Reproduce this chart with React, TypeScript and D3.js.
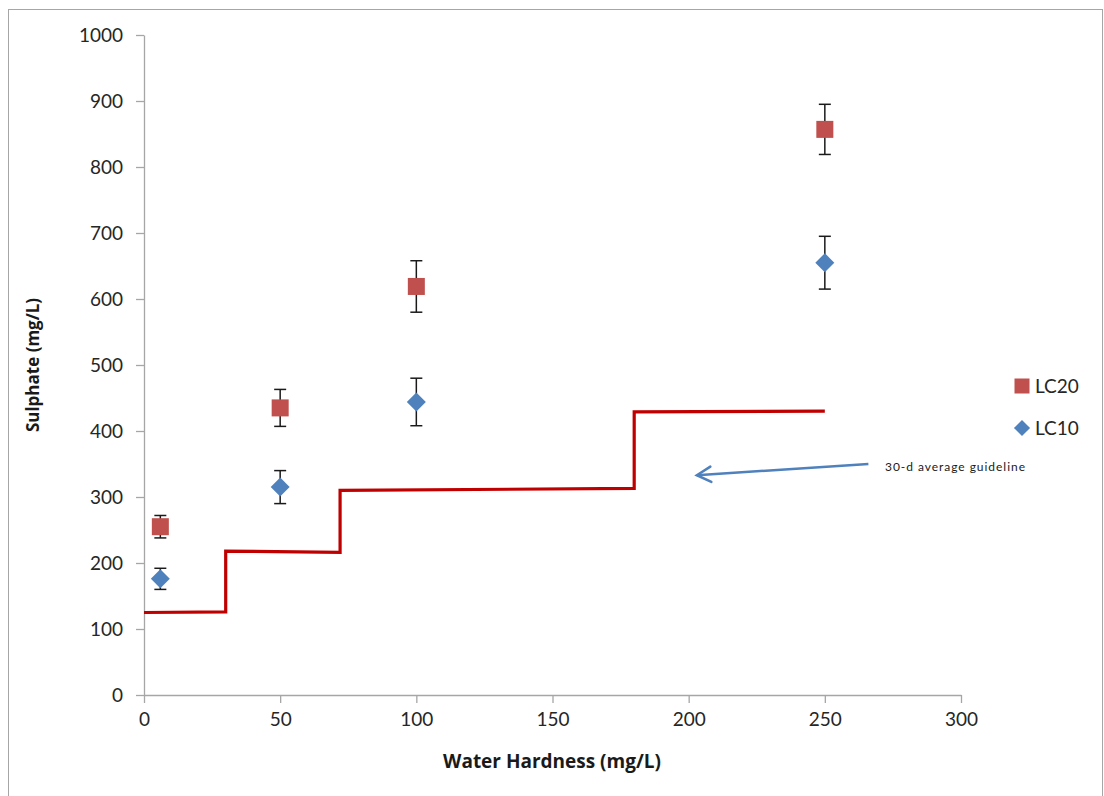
import { useRef, useEffect } from 'react'
import * as d3 from 'd3'

// hardness levels (mg/L)
const hardness = [6, 50, 100, 250]
const lc20 = [255, 435, 619, 857]
const lc20Err = [17, 28, 39, 38]
const lc10 = [176, 315, 444, 655]
const lc10Err = [16, 25, 36, 40]

// 30-day average guideline (stepped)
const guideX = [0, 30, 30, 72, 72, 180, 180, 250]
const guideY = [125, 126, 218, 216, 310, 313, 429, 430]

const xTicks = [0, 50, 100, 150, 200, 250, 300]
const yTicks = [0, 100, 200, 300, 400, 500, 600, 700, 800, 900, 1000]

const FONT = 'Lato, "Open Sans", sans-serif'
const TITLE_FONT = '"Open Sans", Lato, sans-serif'

export default function App() {
    const svgRef = useRef<SVGSVGElement>(null)

    useEffect(() => {
        document.body.style.margin = '0'
        if (!svgRef.current) return
        const svg = d3.select(svgRef.current)
        svg.selectAll('*').remove()

        const width = 1104
        const height = 796
        const margin = { top: 35, right: 143, bottom: 101, left: 144 }
        const innerW = width - margin.left - margin.right
        const innerH = height - margin.top - margin.bottom

        svg.attr('width', width).attr('height', height)

        // outer frame
        svg.append('rect')
            .attr('x', 8.5).attr('y', 9.5)
            .attr('width', 1094).attr('height', 800)
            .style('fill', '#fff')
            .style('stroke', '#a6a6a6')

        const g = svg.append('g')
            .attr('transform', `translate(${margin.left},${margin.top})`)

        const x = d3.scaleLinear().domain([0, 300]).range([0, innerW])
        const y = d3.scaleLinear().domain([0, 1000]).range([innerH, 0])

        // axes
        const xAxis = g.append('g')
            .attr('transform', `translate(0,${innerH})`)
            .call(d3.axisBottom(x).tickValues(xTicks).tickFormat(d3.format('d')).tickSize(8).tickSizeOuter(0).tickPadding(10))
        const yAxis = g.append('g')
            .call(d3.axisLeft(y).tickValues(yTicks).tickFormat(d3.format('d')).tickSize(8).tickSizeOuter(0).tickPadding(13))

        ;[xAxis, yAxis].forEach(a => {
            a.selectAll('.domain').style('stroke', '#a6a6a6').style('stroke-width', 1.3)
            a.selectAll('.tick line').style('stroke', '#a6a6a6').style('stroke-width', 1.3)
            a.selectAll('text')
                .style('fill', '#262626')
                .style('font-size', '19px')
                .style('font-family', FONT)
        })
        yAxis.selectAll('text').attr('dy', '0.36em')

        // axis titles
        svg.append('text')
            .attr('x', 552)
            .attr('y', 768)
            .attr('text-anchor', 'middle')
            .style('font-size', '19px')
            .style('font-weight', 'bold')
            .style('font-family', TITLE_FONT)
            .style('fill', '#1a1a1a')
            .text('Water Hardness (mg/L)')

        svg.append('text')
            .attr('transform', `translate(39,${margin.top + y(500)}) rotate(-90)`)
            .attr('text-anchor', 'middle')
            .style('font-size', '17px')
            .style('font-weight', 'bold')
            .style('font-family', TITLE_FONT)
            .style('fill', '#1a1a1a')
            .text('Sulphate (mg/L)')

        // guideline step line
        const guide = guideX.map((v, i) => [v, guideY[i]] as [number, number])
        g.append('path')
            .datum(guide)
            .attr('d', d3.line().x(d => x(d[0])).y(d => y(d[1])))
            .style('fill', 'none')
            .style('stroke', '#c00000')
            .style('stroke-width', 3.2)

        // error bars
        const drawErr = (vals: number[], errs: number[]) => {
            vals.forEach((v, i) => {
                const cx = x(hardness[i])
                const e = g.append('g').style('stroke', '#1a1a1a').style('stroke-width', 1.5)
                e.append('line').attr('x1', cx).attr('x2', cx)
                    .attr('y1', y(v + errs[i])).attr('y2', y(v - errs[i]))
                ;[v + errs[i], v - errs[i]].forEach(t => {
                    e.append('line').attr('x1', cx - 6).attr('x2', cx + 6)
                        .attr('y1', y(t)).attr('y2', y(t))
                })
            })
        }
        drawErr(lc20, lc20Err)
        drawErr(lc10, lc10Err)

        // LC20 squares
        g.selectAll('.lc20')
            .data(lc20)
            .enter()
            .append('rect')
            .attr('x', (d, i) => x(hardness[i]) - 8.5)
            .attr('y', d => y(d) - 8.5)
            .attr('width', 17)
            .attr('height', 17)
            .style('fill', '#c0504d')

        // LC10 diamonds
        const diamond = d3.symbol().type(d3.symbolSquare).size(180)
        g.selectAll('.lc10')
            .data(lc10)
            .enter()
            .append('path')
            .attr('d', diamond)
            .attr('transform', (d, i) => `translate(${x(hardness[i])},${y(d)}) rotate(45)`)
            .style('fill', '#4f81bd')

        // annotation arrow
        const ax0 = x(266), ay0 = y(350), ax1 = x(203), ay1 = y(333)
        g.append('line')
            .attr('x1', ax0).attr('y1', ay0).attr('x2', ax1).attr('y2', ay1)
            .style('stroke', '#4f81bd').style('stroke-width', 2.5)
        const ang = Math.atan2(ay0 - ay1, ax0 - ax1)
        const hl = 16
        g.append('path')
            .attr('d', `M${ax1 + hl * Math.cos(ang - 0.5)},${ay1 + hl * Math.sin(ang - 0.5)}L${ax1},${ay1}L${ax1 + hl * Math.cos(ang + 0.5)},${ay1 + hl * Math.sin(ang + 0.5)}`)
            .style('fill', 'none')
            .style('stroke', '#4f81bd').style('stroke-width', 2.5)
            .style('stroke-linecap', 'round')
        svg.append('text')
            .attr('x', 885).attr('y', 471)
            .attr('textLength', 140)
            .style('font-size', '12px')
            .style('font-family', FONT)
            .style('fill', '#1a1a1a')
            .text('30-d average guideline')

        // legend
        const lg = svg.append('g').attr('transform', 'translate(1022,0)')
        lg.append('rect').attr('x', -7.5).attr('y', 386 - 7.5).attr('width', 15).attr('height', 15)
            .style('fill', '#c0504d')
        lg.append('path').attr('d', d3.symbol().type(d3.symbolSquare).size(130))
            .attr('transform', 'translate(0,428) rotate(45)')
            .style('fill', '#4f81bd')
        ;[['LC20', 386], ['LC10', 428]].forEach(([t, yy]) => {
            lg.append('text')
                .attr('x', 13).attr('y', yy as number).attr('dy', '0.36em')
                .style('font-size', '19px')
                .style('font-family', FONT)
                .style('fill', '#262626')
                .text(t as string)
        })
    }, [])

    return <svg ref={svgRef} style={{ display: 'block' }} />
}
